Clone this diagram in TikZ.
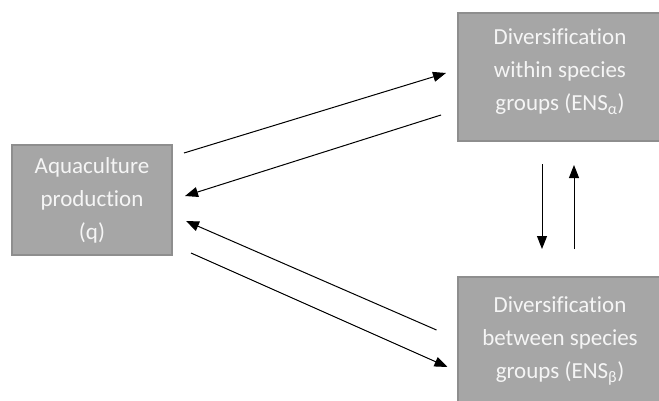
\documentclass[tikz,border=0pt]{standalone}
\usepackage{fontspec}
\setmainfont{Carlito}[Ligatures=NoCommon]
\usepackage{xcolor}
\usetikzlibrary{arrows.meta, positioning, calc}

\definecolor{boxgray}{HTML}{A6A6A6}
\definecolor{boxedge}{HTML}{8E8E8E}

\begin{document}
\begin{tikzpicture}[
  x=1pt, y=1pt,
  box/.style={draw=boxedge, line width=2pt, fill=boxgray, text=white!96!black,
    align=center, font=\fontsize{23}{33}\selectfont, inner sep=0pt},
  arr/.style={-{Triangle[length=13pt, width=10pt]}, line width=1pt, black},
]
  \useasboundingbox (0,0) rectangle (659,400);
  % Boxes
  \node[box, minimum width=160, minimum height=110] (aqua) at (92,200)
    {Aquaculture\\production\\(q)};
  \node[box, minimum width=204, minimum height=128, text depth=14pt] (within) at (560,323)
    {Diversification\\within species\\groups (ENS\textsubscript{α})};
  \node[box, minimum width=205, minimum height=128] (between) at (560,59)
    {Diversification\\between species\\groups (ENS\textsubscript{β})};
  % Arrows to and from the top box
  \draw[arr] ([xshift=11pt, yshift=47pt]aqua.east) -- ([xshift=-11pt, yshift=4pt]within.west);
  \draw[arr] ([xshift=-16pt, yshift=-38pt]within.west) -- ([xshift=12pt, yshift=4pt]aqua.east);
  % Arrows to and from the bottom box
  \draw[arr] ([xshift=-20pt, yshift=11pt]between.west) -- ([xshift=13pt, yshift=-21pt]aqua.east);
  \draw[arr] ([xshift=18pt, yshift=-53pt]aqua.east) -- ([xshift=-9pt, yshift=-26pt]between.west);
  % Vertical arrows
  \draw[arr] ([xshift=-18pt, yshift=-22pt]within.south) -- ([xshift=-18pt, yshift=27pt]between.north);
  \draw[arr] ([xshift=14pt, yshift=27pt]between.north) -- ([xshift=14pt, yshift=-23pt]within.south);
\end{tikzpicture}
\end{document}
